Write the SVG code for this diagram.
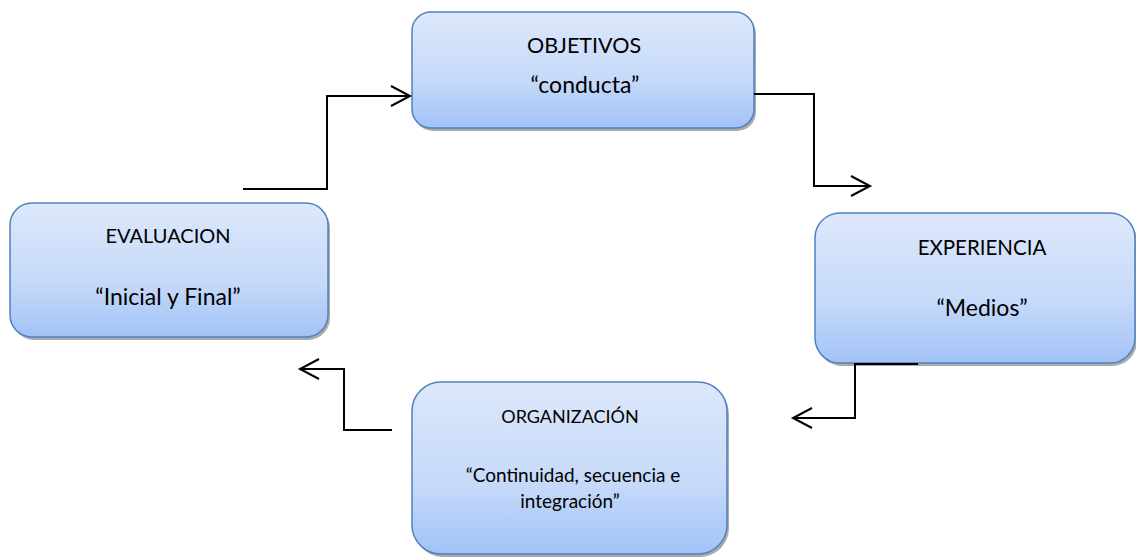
<svg xmlns="http://www.w3.org/2000/svg" width="1136" height="557" viewBox="0 0 1136 557">
<defs>
<linearGradient id="fill" x1="0" y1="0" x2="0" y2="1">
<stop offset="0" stop-color="#dde8fb"/>
<stop offset="0.6" stop-color="#c5d9f9"/>
<stop offset="1" stop-color="#a2c2f6"/>
</linearGradient>
<marker id="arr" markerWidth="24" markerHeight="24" refX="20" refY="12" orient="auto" markerUnits="userSpaceOnUse">
<path d="M1,2 L20,12 L1,22" fill="none" stroke="#000" stroke-width="2"/>
</marker>
</defs>
<style>
.box{fill:url(#fill);stroke:#4f81bd;stroke-width:1.5}
.shadow{fill:#8e8e8e;opacity:0.75}
.t{font-family:Lato,"Open Sans","Liberation Sans",sans-serif;font-size:21.5px;fill:#000;text-anchor:middle}
.l{font-size:23px}
.s{font-size:18px}
.m{font-size:19px}
.c{fill:none;stroke:#000;stroke-width:2}
</style>
<g id="objetivos">
<rect class="shadow" x="414" y="15" width="342" height="116" rx="19"/>
<rect class="box" x="412" y="12" width="342" height="116" rx="19"/>
<text class="t" x="584" y="53">OBJETIVOS</text>
<text class="t l" x="585" y="93">“conducta”</text>
</g>
<g id="evaluacion">
<rect class="shadow" x="12" y="206" width="318" height="134" rx="22"/>
<rect class="box" x="10" y="203" width="318" height="134" rx="22"/>
<text class="t" x="168" y="243" style="font-size:20px">EVALUACION</text>
<text class="t l" x="168" y="305">“Inicial y Final”</text>
</g>
<g id="experiencia">
<rect class="shadow" x="817" y="216" width="320" height="150" rx="25"/>
<rect class="box" x="815" y="213" width="320" height="150" rx="25"/>
<text class="t" x="982" y="255" style="font-size:20.5px">EXPERIENCIA</text>
<text class="t l" x="982" y="316">“Medios”</text>
</g>
<g id="organizacion">
<rect class="shadow" x="414" y="385" width="315" height="172" rx="29"/>
<rect class="box" x="412" y="382" width="315" height="172" rx="29"/>
<text class="t s" x="570" y="423">ORGANIZACIÓN</text>
<text class="t m" x="573" y="482">“Continuidad, secuencia e</text>
<text class="t m" x="570" y="508">integración”</text>
</g>
<g id="connectors">
<path class="c" d="M243,189 H327 V96 H410" marker-end="url(#arr)"/>
<path class="c" d="M754,94 H814 V186 H870" marker-end="url(#arr)"/>
<path class="c" d="M918,364 H855 V418 H793" marker-end="url(#arr)"/>
<path class="c" d="M392,430 H344 V369 H300" marker-end="url(#arr)"/>
</g>
</svg>
